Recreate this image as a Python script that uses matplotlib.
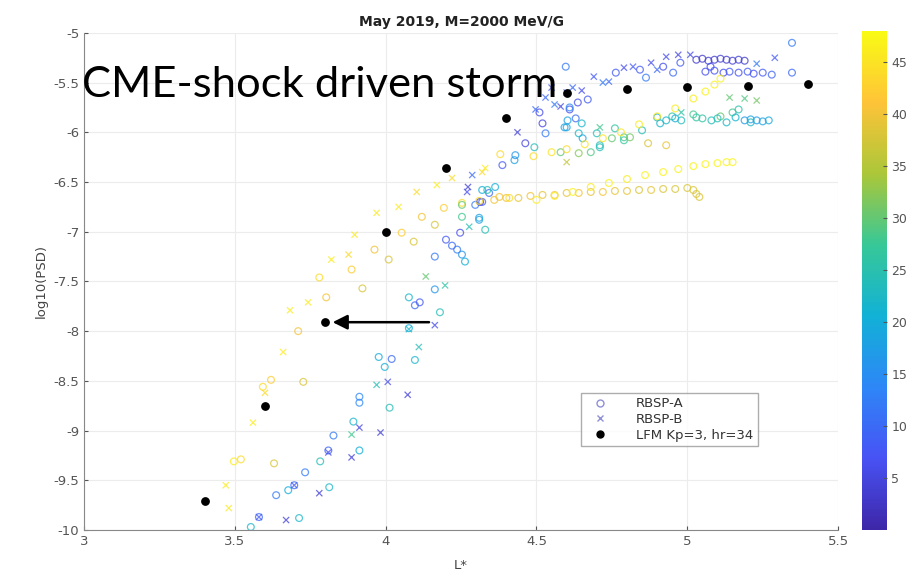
import matplotlib.pyplot as plt
import numpy as np
from matplotlib.colors import LinearSegmentedColormap, Normalize
from matplotlib.lines import Line2D

# RBSP-A (circles): L*, log10(PSD), hour
a_L = [3.553, 3.58, 3.713, 3.637, 3.677, 3.697, 3.733, 3.813, 3.783, 3.81, 3.913, 3.827, 3.893, 3.913, 3.913,
       4.013, 3.997, 3.977, 4.02, 4.097, 4.077, 4.18, 4.163, 4.077, 4.097, 4.113, 4.163, 4.2, 4.22, 4.237,
       4.253, 4.263, 4.247, 4.31, 4.33, 4.32, 4.297, 4.363, 4.343,
       4.387, 4.427, 4.43, 4.463, 4.493, 4.52, 4.53, 4.51, 4.593, 4.61, 4.63, 4.65, 4.637, 4.67, 4.653, 4.71,
       4.597, 4.763, 4.843, 4.92, 4.977, 4.863, 4.953, 5.077, 5.347, 5.347, 4.61, 4.603,
       5.03, 5.05, 5.07, 5.09, 5.11, 5.13, 5.15, 5.17, 5.19,
       5.06, 5.09, 5.12, 5.14, 5.17, 5.20, 5.22, 5.25, 5.28,
       5.19, 5.21, 5.23, 5.25, 5.27,
       5.02, 5.05, 5.08, 5.11, 5.13, 5.15, 4.98, 4.95, 4.93, 4.90, 5.17, 4.85, 4.79, 4.91, 4.96, 5.03, 5.10, 5.16, 5.21,
       4.58, 4.64, 4.68, 4.71, 4.75, 4.79, 4.81, 4.60, 4.64, 4.70, 4.76,
       4.38, 4.49, 4.55, 4.60, 4.66, 4.72, 4.78, 4.84, 4.90, 4.96, 5.02, 5.06, 5.09, 5.11,
       4.36, 4.40, 4.44, 4.48, 4.52, 4.56, 4.60, 4.64, 4.68, 4.72, 4.76, 4.80, 4.84, 4.88, 4.92, 4.96, 5.00, 5.02, 5.03, 5.04,
       4.50, 4.56, 4.62, 4.68, 4.74, 4.80, 4.86, 4.92, 4.97, 5.02, 5.06, 5.10, 5.13, 5.15,
       4.87, 4.93,
       3.71, 3.62, 3.593, 3.727, 3.52, 3.497, 3.63, 3.803, 3.887, 3.923, 3.963, 4.01, 4.053, 4.093, 4.12, 4.163,
       4.193, 4.253, 3.78,
       4.32, 4.337, 4.313, 4.31, 4.253, 4.253, 4.31, 4.377, 4.41]
a_psd = [-9.97, -9.87, -9.88, -9.65, -9.60, -9.55, -9.42, -9.57, -9.31, -9.20, -9.20, -9.05, -8.91, -8.66, -8.72,
         -8.77, -8.36, -8.26, -8.28, -8.29, -7.97, -7.81, -7.58, -7.66, -7.74, -7.71, -7.25, -7.08, -7.14, -7.18,
         -7.23, -7.30, -7.01, -6.88, -6.98, -6.70, -6.73, -6.55, -6.61,
         -6.33, -6.28, -6.23, -6.11, -6.15, -5.91, -6.01, -5.80, -5.95, -5.77, -5.86, -5.91, -5.70, -5.67, -6.06, -6.15,
         -5.34, -5.40, -5.37, -5.34, -5.30, -5.45, -5.40, -5.34, -5.10, -5.40, -5.75, -5.88,
         -5.27, -5.26, -5.28, -5.27, -5.26, -5.27, -5.28, -5.27, -5.28,
         -5.39, -5.38, -5.40, -5.39, -5.40, -5.39, -5.41, -5.40, -5.42,
         -5.88, -5.87, -5.88, -5.89, -5.88,
         -5.82, -5.86, -5.88, -5.84, -5.90, -5.80, -5.88, -5.84, -5.88, -5.85, -5.77, -5.98, -6.05, -5.91, -5.86, -5.85, -5.86, -5.85, -5.90,
         -6.20, -6.21, -6.20, -6.13, -6.06, -6.08, -6.05, -5.95, -6.01, -6.01, -5.96,
         -6.22, -6.24, -6.20, -6.17, -6.12, -6.06, -6.00, -5.92, -5.84, -5.76, -5.66, -5.59, -5.52, -5.46,
         -6.68, -6.66, -6.66, -6.64, -6.63, -6.63, -6.61, -6.61, -6.60, -6.60, -6.59, -6.59, -6.58, -6.58, -6.57, -6.57, -6.56, -6.58, -6.62, -6.65,
         -6.68, -6.64, -6.60, -6.55, -6.51, -6.47, -6.43, -6.40, -6.37, -6.34, -6.32, -6.31, -6.30, -6.30,
         -6.11, -6.13,
         -8.00, -8.49, -8.56, -8.51, -9.29, -9.31, -9.33, -7.66, -7.38, -7.57, -7.18, -7.28, -7.01, -7.10, -6.85, -6.93,
         -6.76, -6.71, -7.46,
         -6.58, -6.58, -6.70, -6.69, -6.73, -6.85, -6.86, -6.65, -6.66]
a_hr = [22, 10, 22, 12, 20, 10, 12, 22, 24, 9, 20, 12, 22, 14, 14,
        24, 20, 20, 10, 22, 20, 24, 16, 22, 10, 8, 12, 8, 10, 12,
        16, 20, 6, 18, 24, 8, 12, 20, 10,
        8, 18, 16, 5, 24, 5, 12, 6, 18, 6, 10, 22, 6, 8, 18, 24,
        12, 8, 8, 6, 8, 12, 10, 6, 12, 10, 14, 18,
        3, 3, 4, 3, 4, 3, 4, 4, 3,
        6, 7, 6, 8, 7, 8, 7, 8, 9,
        17, 18, 17, 18, 19,
        28, 26, 24, 30, 22, 28, 24, 26, 22, 20, 25, 24, 28, 22, 20, 26, 24, 21, 23,
        30, 32, 29, 24, 30, 27, 31, 18, 22, 24, 26,
        44, 44, 45, 44, 45, 45, 45, 46, 46, 46, 46, 47, 47, 47,
        40, 40, 39, 40, 39, 40, 39, 40, 39, 40, 39, 39, 38, 39, 38, 38, 38, 38, 38, 38,
        46, 46, 47, 46, 47, 46, 47, 47, 47, 47, 47, 47, 47, 47,
        38, 39,
        40, 42, 44, 38, 44, 46, 38, 40, 42, 38, 40, 38, 42, 38, 40, 38,
        42, 44, 44,
        20, 24, 4, 44, 30, 28, 18, 40, 44]

# RBSP-B (crosses)
b_L = [3.58, 3.67, 3.697, 3.78, 3.81, 3.887, 3.913, 3.887, 3.983, 4.073, 3.97, 4.007, 4.11, 4.077, 4.163,
       4.197, 4.133, 4.277, 4.273, 4.287, 4.27, 4.437, 4.497, 4.58, 4.60, 4.65, 4.62,
       4.69, 4.74, 4.79, 4.82, 4.88, 4.90, 4.93, 4.97, 5.01, 5.29, 5.23, 4.72, 4.55, 4.53, 4.56,
       5.14, 5.19, 5.23, 4.71, 4.98,
       3.48, 3.47, 3.56, 3.66, 3.683, 3.743, 3.82, 3.877, 3.897, 3.97, 4.043, 4.103, 4.17, 4.22, 4.33, 3.6,
       4.32, 4.60]
b_psd = [-9.87, -9.90, -9.55, -9.63, -9.22, -9.27, -8.97, -9.04, -9.02, -8.64, -8.54, -8.51, -8.16, -7.98, -7.94,
         -7.54, -7.45, -6.95, -6.55, -6.43, -6.60, -6.00, -5.77, -5.74, -5.60, -5.58, -5.55,
         -5.44, -5.49, -5.35, -5.34, -5.30, -5.37, -5.24, -5.22, -5.22, -5.25, -5.31, -5.50, -5.55, -5.65, -5.72,
         -5.65, -5.66, -5.68, -5.95, -5.80,
         -9.78, -9.55, -8.92, -8.21, -7.79, -7.71, -7.28, -7.23, -7.03, -6.81, -6.75, -6.60, -6.53, -6.46, -6.36, -8.62,
         -6.40, -6.30]
b_hr = [8, 4, 8, 4, 6, 4, 5, 28, 4, 4, 24, 6, 24, 22, 6,
        26, 30, 24, 4, 10, 6, 4, 10, 5, 8, 6, 10,
        8, 10, 6, 8, 6, 10, 6, 5, 6, 8, 12, 12, 8, 10, 12,
        30, 29, 31, 28, 26,
        46, 46, 46, 46, 46, 46, 46, 44, 46, 46, 46, 44, 46, 44, 46, 44,
        44, 36]

# LFM Kp=3, hr=34
lfm_L = [3.4, 3.6, 3.8, 4.0, 4.2, 4.4, 4.6, 4.8, 5.0, 5.2, 5.4]
lfm_psd = [-9.71, -8.75, -7.91, -7.0, -6.36, -5.86, -5.6, -5.56, -5.54, -5.53, -5.51]

# parula-like colormap
parula = LinearSegmentedColormap.from_list('parula', [
    (0.2422, 0.1504, 0.6603), (0.2810, 0.3228, 0.9579), (0.1786, 0.5289, 0.9682),
    (0.0689, 0.6948, 0.8394), (0.2161, 0.7843, 0.5923), (0.6720, 0.7793, 0.2227),
    (0.9970, 0.7659, 0.2199), (0.9769, 0.9839, 0.0805)])
norm = Normalize(0, 48)

fig = plt.figure(figsize=(9.13, 5.74), dpi=100)
ax = fig.add_axes([0.092, 0.0767, 0.826, 0.866])
cax = fig.add_axes([0.944, 0.0767, 0.027, 0.870])

ax.scatter(a_L, a_psd, s=24, facecolors='none', edgecolors=parula(norm(a_hr)), linewidths=0.9, alpha=0.75)
ax.scatter(b_L, b_psd, s=20, c=b_hr, cmap=parula, norm=norm, marker='x', linewidths=0.9, alpha=0.75)
ax.scatter(lfm_L, lfm_psd, s=28, c='k', zorder=3)

ax.annotate('', xy=(3.815, -7.91), xytext=(4.153, -7.91),
            arrowprops=dict(arrowstyle='-|>', color='k', lw=1.8, mutation_scale=22))

ax.text(2.993, -5.645, 'CME-shock driven storm', family='Lato', fontsize=31.3, color='k', va='baseline')

ax.set_xlim(3, 5.5)
ax.set_ylim(-10, -5)
ax.set_xticks([3, 3.5, 4, 4.5, 5, 5.5])
ax.set_yticks(np.arange(-10, -4.9, 0.5))
ax.set_xticklabels(['3', '3.5', '4', '4.5', '5', '5.5'])
ax.set_yticklabels(['-10', '-9.5', '-9', '-8.5', '-8', '-7.5', '-7', '-6.5', '-6', '-5.5', '-5'])
ax.tick_params(direction='in', labelsize=9.5, colors='#555555', length=3)
ax.grid(True, color='#ececec', lw=0.8)
ax.set_axisbelow(True)
for s in ['top', 'right']:
    ax.spines[s].set_visible(False)
for s in ['left', 'bottom']:
    ax.spines[s].set_color('#888888')
ax.set_title('May 2019, M=2000 MeV/G', fontsize=10, fontweight='bold', color='#222222', pad=5)
ax.set_xlabel('L*', fontsize=9.5, color='#444444', labelpad=8)
ax.set_ylabel('log10(PSD)', fontsize=9.5, color='#444444')

handles = [Line2D([], [], marker='o', ls='none', mfc='none', mec='#9090d8', ms=5),
           Line2D([], [], marker='x', ls='none', color='#9090d8', ms=4),
           Line2D([], [], marker='o', ls='none', color='k', ms=5)]
ax.legend(handles, ['RBSP-A', 'RBSP-B', 'LFM Kp=3, hr=34'], loc='lower right',
          bbox_to_anchor=(0.902, 0.155), fontsize=9.5, fancybox=False, edgecolor='#999999',
          labelcolor='#333333', handlelength=2.2, handletextpad=1.6, borderpad=0.35, labelspacing=0.2)

cb = fig.colorbar(plt.cm.ScalarMappable(norm=norm, cmap=parula), cax=cax)
cb.set_ticks([5, 10, 15, 20, 25, 30, 35, 40, 45])
cb.ax.tick_params(direction='in', labelsize=9, colors='#555555', length=3)
cb.outline.set_visible(False)

plt.savefig('out.png', dpi=100)
